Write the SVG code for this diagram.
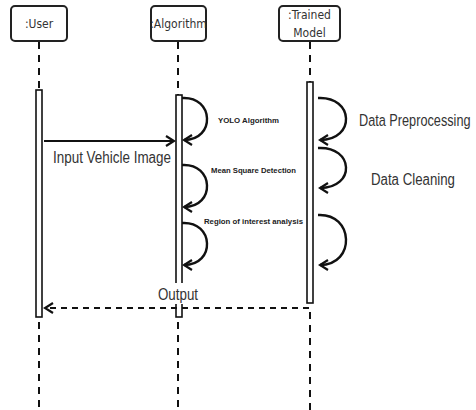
<svg xmlns="http://www.w3.org/2000/svg" width="476" height="410" viewBox="0 0 476 410">
  <style>
    .head { fill: #fff; stroke: #222; stroke-width: 2; }
    .head-label { font-family: "DejaVu Sans Condensed", "DejaVu Sans", sans-serif; font-size: 12px; fill: #333; text-anchor: middle; }
    .life { stroke: #111; stroke-width: 2; stroke-dasharray: 7 6; fill: none; }
    .act { fill: #fff; stroke: #111; stroke-width: 1.6; }
    .msg { stroke: #111; stroke-width: 2; fill: none; }
    .ret { stroke: #111; stroke-width: 2; fill: none; stroke-dasharray: 6 5; }
    .loop { stroke: #111; stroke-width: 2.4; fill: none; }
    .lbl { font-family: "Liberation Sans", Arial, sans-serif; fill: #333; }
    .small { font-family: "Liberation Sans", Arial, sans-serif; font-size: 8px; font-weight: bold; fill: #222; }
  </style>
  <defs>
    <marker id="open" viewBox="0 0 12 12" refX="10" refY="6" markerWidth="12" markerHeight="12" markerUnits="userSpaceOnUse" orient="auto">
      <polyline points="2,1 10,6 2,11" fill="none" stroke="#111" stroke-width="2.2"/>
    </marker>
  </defs>

  <!-- lifelines -->
  <g id="lifelines">
    <line class="life" x1="39" y1="42" x2="39" y2="90"/>
    <line class="life" x1="39" y1="322" x2="39" y2="410"/>
    <line class="life" x1="178" y1="42" x2="178" y2="95"/>
    <line class="life" x1="178" y1="322" x2="178" y2="410"/>
    <line class="life" x1="310" y1="42" x2="310" y2="82"/>
    <line class="life" x1="310" y1="312" x2="310" y2="410"/>
  </g>

  <g id="user">
    <rect class="head" x="11" y="6" width="56" height="35" rx="4"/>
    <text class="head-label" x="39" y="28">:User</text>
    <rect class="act" x="36" y="90" width="6" height="227"/>
  </g>

  <g id="algorithm">
    <rect class="head" x="151" y="6" width="55" height="35" rx="4"/>
    <text class="head-label" x="178.5" y="28">:Algorithm</text>
    <rect class="act" x="176" y="95" width="6" height="222"/>
  </g>

  <g id="trained-model">
    <rect class="head" x="279" y="6" width="61" height="35" rx="4"/>
    <text class="head-label" x="309.5" y="19">:Trained</text>
    <text class="head-label" x="309.5" y="37">Model</text>
    <rect class="act" x="307" y="82" width="6" height="221"/>
  </g>

  <g id="connectors">
    <!-- request -->
    <line class="msg" x1="44" y1="141" x2="174" y2="141" marker-end="url(#open)"/>
    <!-- algorithm self calls -->
    <path class="loop" d="M182,98 C214,96 216,140 184,140" marker-end="url(#open)"/>
    <path class="loop" d="M182,165 C214,163 216,207 184,207" marker-end="url(#open)"/>
    <path class="loop" d="M182,223 C214,221 216,265 184,265" marker-end="url(#open)"/>
    <!-- model self calls -->
    <path class="loop" d="M318,98 C354,96 356,140 320,140" marker-end="url(#open)"/>
    <path class="loop" d="M318,148 C354,146 356,188 320,188" marker-end="url(#open)"/>
    <path class="loop" d="M318,215 C354,213 356,265 320,265" marker-end="url(#open)"/>
    <!-- reply -->
    <line class="ret" x1="309" y1="308" x2="45" y2="308" marker-end="url(#open)"/>
  </g>

  <g id="labels">
    <text class="lbl" x="53" y="163" font-size="16" textLength="118" lengthAdjust="spacingAndGlyphs">Input Vehicle Image</text>
    <text class="small" x="218" y="123" textLength="61" lengthAdjust="spacingAndGlyphs">YOLO Algorithm</text>
    <text class="small" x="211" y="173" textLength="85" lengthAdjust="spacingAndGlyphs">Mean Square Detection</text>
    <text class="small" x="204" y="224" textLength="99" lengthAdjust="spacingAndGlyphs">Region of interest analysis</text>
    <text class="lbl" transform="translate(359,126) scale(0.77,1)" x="0" y="0" font-size="16.5">Data Preprocessing</text>
    <text class="lbl" x="371" y="185" font-size="16" textLength="84" lengthAdjust="spacingAndGlyphs">Data Cleaning</text>
    <rect x="157" y="283" width="42" height="21" fill="#fff"/>
    <text class="lbl" x="158" y="300" font-size="16" textLength="40" lengthAdjust="spacingAndGlyphs">Output</text>
  </g>
</svg>
